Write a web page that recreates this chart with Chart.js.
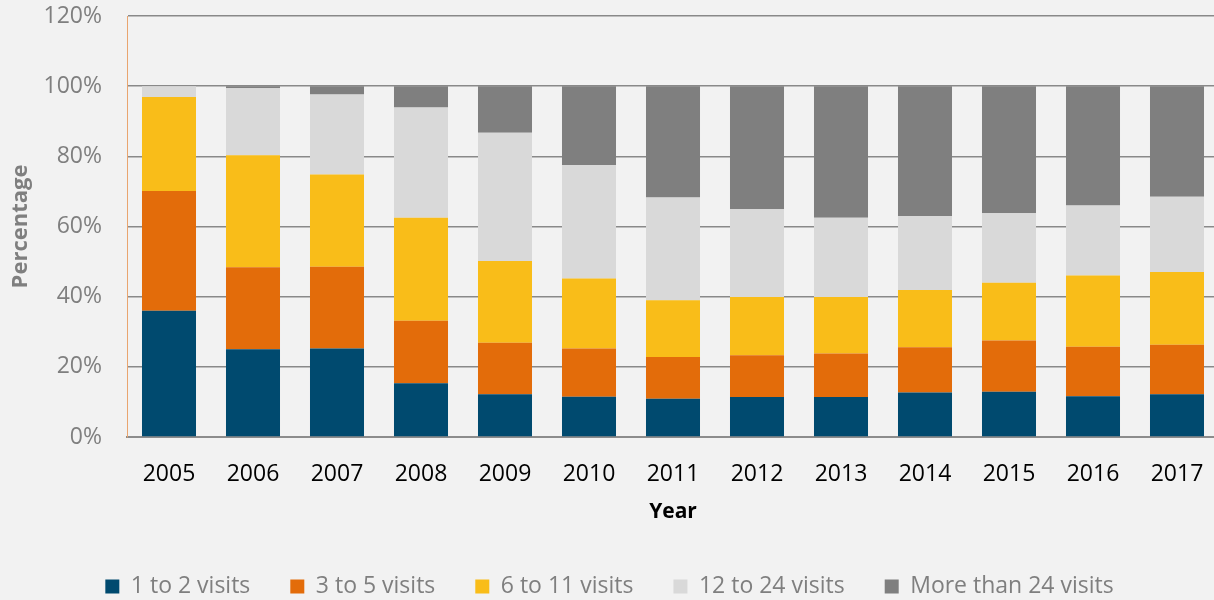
<!DOCTYPE html>
<html>
<head>
<meta charset="utf-8">
<script src="https://cdn.jsdelivr.net/npm/chart.js@4"></script>
<style>
    html, body { margin: 0; padding: 0; background: #f2f2f2; overflow: hidden; }
    #wrap { width: 1220px; height: 600px; }
</style>
</head>
<body>
<div id="wrap"><canvas id="visitsChart"></canvas></div>
<script>
/* -------------------------------------------------------------------------- */
/*  DONNÉES                                                                   */
/* -------------------------------------------------------------------------- */

const YEARS = ['2005', '2006', '2007', '2008', '2009', '2010', '2011', '2012', '2013', '2014', '2015', '2016', '2017'];
const Y_TICKS = [0, 20, 40, 60, 80, 100, 120];

const visits1to2 = [36.0, 25.0, 25.2, 15.3, 12.2, 11.5, 10.9, 11.4, 11.4, 12.7, 12.9, 11.6, 12.2];
const visits3to5 = [34.1, 23.4, 23.3, 17.8, 14.7, 13.7, 11.9, 11.9, 12.4, 12.9, 14.6, 14.1, 14.1];
const visits6to11 = [26.8, 31.9, 26.3, 29.4, 23.3, 20.0, 16.2, 16.6, 16.1, 16.3, 16.5, 20.3, 20.7];
const visits12to24 = [3.1, 19.1, 22.8, 31.4, 36.5, 32.3, 29.3, 25.0, 22.6, 21.1, 19.8, 20.0, 21.5];
const visitsOver24 = [0.0, 0.6, 2.4, 6.1, 13.3, 22.5, 31.7, 35.1, 37.5, 37.0, 36.2, 34.0, 31.5];

const FONT = "'Open Sans', 'DejaVu Sans', sans-serif";

/* -------------------------------------------------------------------------- */
/*  LÉGENDE : hauteur fixe                                                    */
/* -------------------------------------------------------------------------- */

const legendHeight = {
    id: 'legendHeight',
    beforeInit(chart) {
        const fit = chart.legend.fit;
        chart.legend.fit = function () {
            fit.call(this);
            this.height = 65;
        };
    }
};

/* -------------------------------------------------------------------------- */
/*  GRAPHIQUE                                                                 */
/* -------------------------------------------------------------------------- */

function makeSet(label, data, color) {
    return {
        label,
        data,
        backgroundColor: color,
        borderWidth: 0,
        barPercentage: 0.643,
        categoryPercentage: 1
    };
}

new Chart(document.getElementById('visitsChart'), {
    type: 'bar',
    data: {
        labels: YEARS,
        datasets: [
            makeSet('1 to 2 visits', visits1to2, '#004a6f'),
            makeSet('3 to 5 visits', visits3to5, '#e36c0a'),
            makeSet('6 to 11 visits', visits6to11, '#f9bd19'),
            makeSet('12 to 24 visits', visits12to24, '#d9d9d9'),
            makeSet('More than 24 visits', visitsOver24, '#7f7f7f')
        ]
    },
    options: {
        responsive: true,
        maintainAspectRatio: false,
        animation: false,
        layout: { padding: { top: 16, right: 1, left: 0, bottom: 0 } },
        scales: {
            x: {
                stacked: true,
                grid: { display: false },
                border: { color: '#8c8c8c', width: 2 },
                ticks: { color: '#000', padding: 16, font: { family: FONT, size: 23 } },
                title: {
                    display: true,
                    text: 'Year',
                    color: '#000',
                    padding: { top: 0, bottom: 10 },
                    font: { family: FONT, size: 21, weight: 'bold' }
                },
                afterFit(scale) { scale.height = 98; }
            },
            y: {
                stacked: true,
                min: 0,
                max: 120,
                afterBuildTicks(scale) { scale.ticks = Y_TICKS.map(v => ({ value: v })); },
                grid: { color: '#898989', lineWidth: 1.5, drawTicks: false },
                border: { color: '#e9a56f', width: 1 },
                ticks: {
                    color: '#7f7f7f',
                    padding: 25,
                    font: { family: FONT, size: 23 },
                    callback: v => v + '%'
                },
                title: {
                    display: true,
                    text: 'Percentage',
                    color: '#7f7f7f',
                    padding: { top: 8, bottom: 0 },
                    font: { family: FONT, size: 22, weight: 'bold' }
                },
                afterFit(scale) {
                    scale.width = 127;
                    scale.paddingTop = 0;
                    scale.paddingBottom = 0;
                }
            }
        },
        plugins: {
            legend: {
                position: 'bottom',
                labels: {
                    color: '#7f7f7f',
                    boxWidth: 14,
                    boxHeight: 14,
                    padding: 40,
                    font: { family: FONT, size: 23 }
                }
            },
            tooltip: { enabled: false }
        }
    },
    plugins: [legendHeight]
});
</script>
</body>
</html>
